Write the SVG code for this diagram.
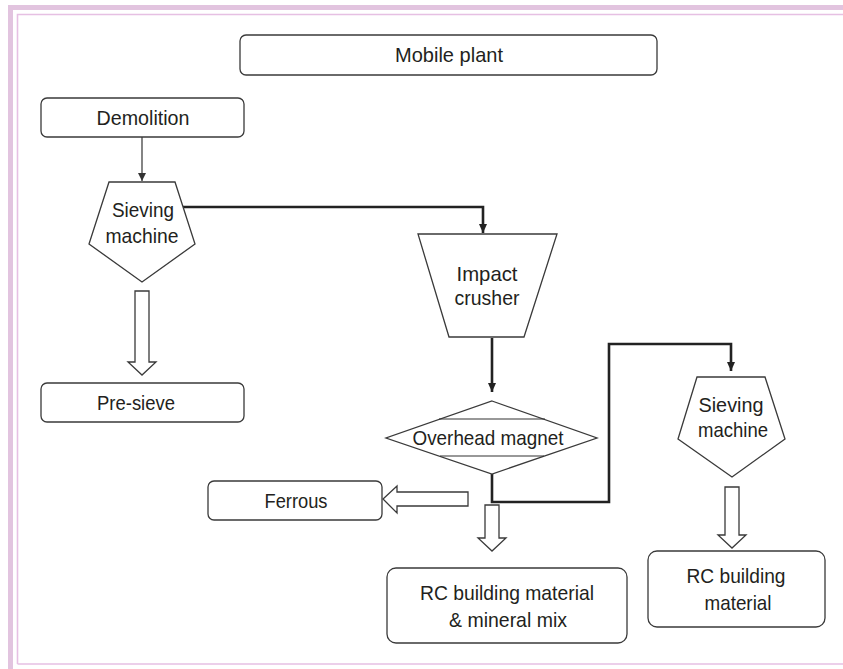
<svg xmlns="http://www.w3.org/2000/svg" width="843" height="669" viewBox="0 0 843 669">
  <style>
    .frame-band { fill: #e2c4df; }
    .frame-line { stroke: #e6c0e3; stroke-width: 1.6; fill: none; }
    .box { fill: #ffffff; stroke: #3a3a3a; stroke-width: 1.3; }
    .shape { fill: #ffffff; stroke: #3a3a3a; stroke-width: 1.3; stroke-linejoin: miter; }
    .label { font-family: "Liberation Sans", Arial, sans-serif; font-size: 21px; fill: #231f20; text-anchor: middle; }
    .thin { stroke: #333333; stroke-width: 1.2; fill: none; }
    .thick { stroke: #222222; stroke-width: 2.6; fill: none; }
    .hollow { fill: #ffffff; stroke: #3a3a3a; stroke-width: 1.3; stroke-linejoin: miter; }
  </style>
  <defs>
    <marker id="headThin" markerUnits="userSpaceOnUse" markerWidth="10" markerHeight="10" refX="8" refY="4" orient="auto">
      <path d="M0,0 L8,4 L0,8 Z" fill="#333333"/>
    </marker>
    <marker id="headThick" markerUnits="userSpaceOnUse" markerWidth="12" markerHeight="12" refX="9" refY="4" orient="auto">
      <path d="M0,0 L9,4 L0,8 Z" fill="#222222"/>
    </marker>
  </defs>

  <rect width="843" height="669" fill="#ffffff"/>

  <!-- page frame -->
  <g id="frame">
    <rect class="frame-band" x="8" y="5" width="835" height="5"/>
    <rect class="frame-band" x="8" y="5" width="5" height="664"/>
    <path class="frame-line" d="M17.5,664 V14.5 H843 M17.5,664 H843"/>
  </g>

  <!-- connectors -->
  <g id="connectors">
    <line class="thin" x1="142" y1="137" x2="142" y2="181" marker-end="url(#headThin)"/>
    <polyline class="thick" points="183,207 483,207 483,233" marker-end="url(#headThick)"/>
    <line class="thick" x1="492" y1="338" x2="492" y2="392" marker-end="url(#headThick)"/>
    <polyline class="thick" points="492,474 492,502 609,502 609,344 731,344 731,371" marker-end="url(#headThick)"/>
    <!-- hollow flow arrows -->
    <polygon class="hollow" points="135,291 149,291 149,362 156,362 142,375 128,362 135,362"/>
    <polygon class="hollow" points="468,492 468,506 397,506 397,513 383,499 397,486 397,492"/>
    <polygon class="hollow" points="485,505 499,505 499,538 506,538 492,551 478,538 485,538"/>
    <polygon class="hollow" points="725,487 739,487 739,535 746,535 732,548 718,535 725,535"/>
  </g>

  <g id="mobile-plant">
    <rect class="box" x="240" y="35" width="417" height="40" rx="6"/>
    <text class="label" x="449" y="62" textLength="108" lengthAdjust="spacingAndGlyphs">Mobile plant</text>
  </g>

  <g id="demolition">
    <rect class="box" x="41" y="98" width="203" height="39" rx="6"/>
    <text class="label" x="143" y="125" textLength="93" lengthAdjust="spacingAndGlyphs">Demolition</text>
  </g>

  <g id="sieving-machine-1">
    <polygon class="shape" points="109,182 175,182 195,244 142,282 89,244"/>
    <text class="label" x="143" y="217" textLength="62" lengthAdjust="spacingAndGlyphs">Sieving</text>
    <text class="label" x="142" y="243" textLength="73" lengthAdjust="spacingAndGlyphs">machine</text>
  </g>

  <g id="pre-sieve">
    <rect class="box" x="41" y="383" width="203" height="39" rx="6"/>
    <text class="label" x="136" y="410" textLength="78" lengthAdjust="spacingAndGlyphs">Pre-sieve</text>
  </g>

  <g id="impact-crusher">
    <polygon class="shape" points="418,234 557,234 524,337 449,337"/>
    <text class="label" x="487" y="281" textLength="61" lengthAdjust="spacingAndGlyphs">Impact</text>
    <text class="label" x="487" y="305" textLength="65" lengthAdjust="spacingAndGlyphs">crusher</text>
  </g>

  <g id="overhead-magnet">
    <polygon class="shape" points="492,401 597,438 492,474 386,438"/>
    <line class="thin" x1="439" y1="419" x2="545" y2="419"/>
    <line class="thin" x1="440" y1="456" x2="544" y2="456"/>
    <text class="label" x="488" y="445" textLength="151" lengthAdjust="spacingAndGlyphs">Overhead magnet</text>
  </g>

  <g id="ferrous">
    <rect class="box" x="208" y="481" width="174" height="39" rx="6"/>
    <text class="label" x="296" y="508" textLength="63" lengthAdjust="spacingAndGlyphs">Ferrous</text>
  </g>

  <g id="sieving-machine-2">
    <polygon class="shape" points="697,377 765,377 785,439 732,477 678,439"/>
    <text class="label" x="731" y="412" textLength="65" lengthAdjust="spacingAndGlyphs">Sieving</text>
    <text class="label" x="733" y="437" textLength="70" lengthAdjust="spacingAndGlyphs">machine</text>
  </g>

  <g id="rc-mineral-mix">
    <rect class="box" x="387" y="568" width="240" height="75" rx="9"/>
    <text class="label" x="507" y="600" textLength="174" lengthAdjust="spacingAndGlyphs">RC building material</text>
    <text class="label" x="508" y="627" textLength="118" lengthAdjust="spacingAndGlyphs">&amp; mineral mix</text>
  </g>

  <g id="rc-material">
    <rect class="box" x="648" y="551" width="177" height="76" rx="9"/>
    <text class="label" x="736" y="583" textLength="99" lengthAdjust="spacingAndGlyphs">RC building</text>
    <text class="label" x="738" y="610" textLength="67" lengthAdjust="spacingAndGlyphs">material</text>
  </g>
</svg>
